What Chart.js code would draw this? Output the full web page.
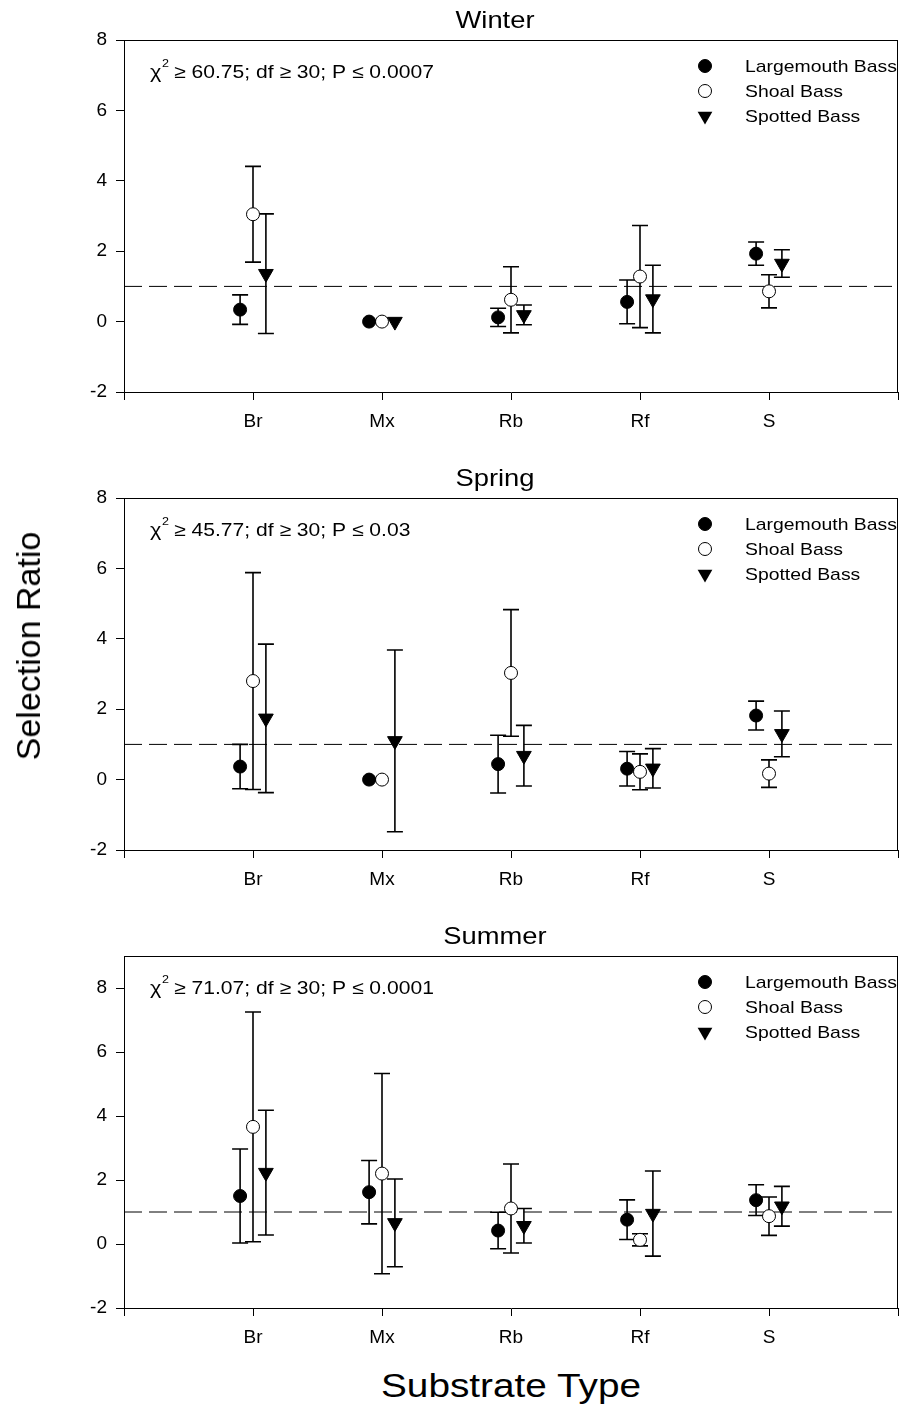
<!DOCTYPE html>
<html>
<head>
<meta charset="utf-8">
<script src="https://cdn.jsdelivr.net/npm/chart.js@4.4.1/dist/chart.umd.min.js"></script>
<style>
  body { margin: 0; background: #fff; }
  #page { position: relative; width: 901px; height: 1413px; background: #fff; font-family: "Liberation Sans", Arial, sans-serif; }
  canvas { position: absolute; left: 0; }
  .ylabel { position: absolute; left: 28px; top: 646px; font-size: 34px; line-height: 34px; white-space: nowrap;
            transform: translate(-50%, -50%) rotate(-90deg); }
  .xlabel { position: absolute; left: 511px; top: 1368px; font-size: 34px; line-height: 34px; white-space: nowrap;
            transform: translateX(-50%) scaleX(1.14); }
</style>
</head>
<body>
<div id="page">
  <canvas id="winter" width="901" height="440" style="top:0px"></canvas>
  <canvas id="spring" width="901" height="440" style="top:458px"></canvas>
  <canvas id="summer" width="901" height="440" style="top:916px"></canvas>
  <div class="ylabel">Selection Ratio</div>
  <div class="xlabel">Substrate Type</div>
</div>
<script>
// categories and tick labels
const categories = ['Br', 'Mx', 'Rb', 'Rf', 'S'];
const species = ['Largemouth Bass', 'Shoal Bass', 'Spotted Bass'];
const xTickValues = [0, 1, 2, 3, 4, 5, 6];
const yTickValues = [-2, 0, 2, 4, 6, 8];
const refLineValue = 1;

// Winter (mean and 95% CI half-width)
const winterLargemouth = [0.34, 0.00, 0.12, 0.56, 1.93];
const winterLargemouthCI = [0.42, null, 0.26, 0.62, 0.33];
const winterShoal = [3.05, 0.00, 0.62, 1.28, 0.86];
const winterShoalCI = [1.36, null, 0.94, 1.45, 0.47];
const winterSpotted = [1.36, 0.00, 0.19, 0.64, 1.65];
const winterSpottedCI = [1.70, null, 0.28, 0.96, 0.39];

// Spring
const springLargemouth = [0.37, 0.00, 0.44, 0.31, 1.82];
const springLargemouthCI = [0.63, null, 0.82, 0.49, 0.41];
const springShoal = [2.80, 0.00, 3.03, 0.22, 0.17];
const springShoalCI = [3.08, null, 1.80, 0.51, 0.39];
const springSpotted = [1.74, 1.10, 0.68, 0.32, 1.30];
const springSpottedCI = [2.11, 2.58, 0.86, 0.56, 0.65];

// Summer
const summerLargemouth = [1.50, 1.62, 0.42, 0.76, 1.37];
const summerLargemouthCI = [1.47, 0.99, 0.57, 0.62, 0.48];
const summerShoal = [3.66, 2.20, 1.11, 0.13, 0.87];
const summerShoalCI = [3.59, 3.13, 1.39, 0.19, 0.60];
const summerSpotted = [2.23, 0.66, 0.57, 0.95, 1.18];
const summerSpottedCI = [1.95, 1.37, 0.54, 1.33, 0.62];

const winterStats = '\u2265 60.75; df \u2265 30; P \u2264 0.0007';
const springStats = '\u2265 45.77; df \u2265 30; P \u2264 0.03';
const summerStats = '\u2265 71.07; df \u2265 30; P \u2264 0.0001';

const FONT = '"Liberation Sans", Arial, sans-serif';
const STRETCH = 1.14;
Chart.defaults.font.family = FONT;
Chart.defaults.color = '#000';

function stretchText(ctx, text, x, y, align) {
  ctx.save();
  ctx.translate(x, y);
  ctx.scale(STRETCH, 1);
  ctx.textAlign = align;
  ctx.textBaseline = 'alphabetic';
  ctx.fillText(text, 0, 0);
  ctx.restore();
}

function drawMarker(ctx, kind, x, y) {
  ctx.beginPath();
  if (kind === 2) {
    const r = 8.5;
    ctx.moveTo(x, y + r);
    ctx.lineTo(x - r * 0.866, y - r / 2);
    ctx.lineTo(x + r * 0.866, y - r / 2);
    ctx.closePath();
    ctx.fillStyle = '#000';
    ctx.fill();
  } else {
    ctx.arc(x, y, 6.5, 0, Math.PI * 2);
    ctx.fillStyle = kind === 0 ? '#000' : '#fff';
    ctx.fill();
    ctx.strokeStyle = '#000';
    ctx.lineWidth = 1;
    ctx.stroke();
  }
}

// error bars drawn under the markers
const errorBars = {
  id: 'errorBars',
  beforeDatasetsDraw(chart) {
    const { ctx, scales: { x, y } } = chart;
    ctx.save();
    ctx.strokeStyle = '#000';
    ctx.lineWidth = 1.6;
    chart.data.datasets.forEach(ds => {
      if (!ds.ci) return;
      ds.data.forEach((p, i) => {
        const e = ds.ci[i];
        if (e == null) return;
        const px = x.getPixelForValue(p.x);
        const top = y.getPixelForValue(p.y + e);
        const bot = y.getPixelForValue(p.y - e);
        ctx.beginPath();
        ctx.moveTo(px, top); ctx.lineTo(px, bot);
        ctx.moveTo(px - 8, top); ctx.lineTo(px + 8, top);
        ctx.moveTo(px - 8, bot); ctx.lineTo(px + 8, bot);
        ctx.stroke();
      });
    });
    ctx.restore();
  }
};

// top and right frame lines, title, stats, legend
const panelDecor = {
  id: 'panelDecor',
  afterDraw(chart, args, opts) {
    const { ctx, chartArea: a } = chart;
    ctx.save();
    ctx.strokeStyle = '#000';
    ctx.lineWidth = 1;
    ctx.beginPath();
    ctx.moveTo(a.left, Math.round(a.top) + 0.5);
    ctx.lineTo(a.right, Math.round(a.top) + 0.5);
    ctx.moveTo(Math.round(a.right) - 0.5, a.top);
    ctx.lineTo(Math.round(a.right) - 0.5, a.bottom);
    ctx.stroke();

    ctx.fillStyle = '#000';
    ctx.font = '24px ' + FONT;
    stretchText(ctx, opts.title, 495, a.top - 12, 'center');

    ctx.font = '19px ' + FONT;
    stretchText(ctx, '\u03c7', a.left + 26, a.top + 38, 'left');
    ctx.font = '11px ' + FONT;
    stretchText(ctx, '2', a.left + 38, a.top + 27, 'left');
    ctx.font = '18.5px ' + FONT;
    stretchText(ctx, opts.stats, a.left + 50, a.top + 38, 'left');

    ctx.font = '17px ' + FONT;
    species.forEach((name, i) => {
      const cy = a.top + 26 + i * 25;
      drawMarker(ctx, i, 705, cy);
      ctx.fillStyle = '#000';
      stretchText(ctx, name, 745, cy + 6, 'left');
    });
    ctx.restore();
  }
};

function seriesPoints(values, k) {
  const offset = (k - 1) * 0.1;
  return values.map((v, i) => ({ x: i + 1 + offset, y: v }));
}

function makePanel(id, title, stats, lmb, lmbCI, shoal, shoalCI, spotted, spottedCI, yMax) {
  const ctx = document.getElementById(id).getContext('2d');
  return new Chart(ctx, {
    type: 'scatter',
    data: {
      datasets: [
        {
          label: species[0], data: seriesPoints(lmb, 0), ci: lmbCI,
          pointStyle: 'circle', pointRadius: 6.5, backgroundColor: '#000', borderColor: '#000', borderWidth: 1
        },
        {
          label: species[1], data: seriesPoints(shoal, 1), ci: shoalCI,
          pointStyle: 'circle', pointRadius: 6.5, backgroundColor: '#fff', borderColor: '#000', borderWidth: 1
        },
        {
          label: species[2], data: seriesPoints(spotted, 2), ci: spottedCI,
          pointStyle: 'triangle', rotation: 180, pointRadius: 8.5, backgroundColor: '#000', borderColor: '#000', borderWidth: 1
        },
        {
          type: 'line', label: 'ref', data: [{ x: 0, y: refLineValue }, { x: 6, y: refLineValue }],
          borderColor: '#000', borderWidth: 1, borderDash: [18, 7], pointRadius: 0, fill: false
        }
      ]
    },
    options: {
      responsive: false,
      animation: false,
      layout: { autoPadding: false, padding: { top: 40, right: 3, left: 0, bottom: 0 } },
      plugins: {
        legend: { display: false },
        tooltip: { enabled: false },
        panelDecor: { title: title, stats: stats }
      },
      scales: {
        x: {
          type: 'linear', min: 0, max: 6,
          afterBuildTicks: s => { s.ticks = xTickValues.map(v => ({ value: v })); },
          afterFit: s => { s.height = 48; s.paddingLeft = 0; s.paddingRight = 0; },
          ticks: {
            callback: v => categories[v - 1] || '',
            font: { size: 19 }, color: '#000', padding: 10, maxRotation: 0, autoSkip: false
          },
          grid: { drawOnChartArea: false, tickLength: 8, color: '#000' },
          border: { color: '#000', width: 1 }
        },
        y: {
          type: 'linear', min: -2, max: yMax,
          afterBuildTicks: s => { s.ticks = yTickValues.map(v => ({ value: v })); },
          afterFit: s => { s.width = 124; s.paddingTop = 0; s.paddingBottom = 0; },
          ticks: { font: { size: 19 }, color: '#000', padding: 9 },
          grid: { drawOnChartArea: false, tickLength: 8, color: '#000' },
          border: { color: '#000', width: 1 }
        }
      }
    },
    plugins: [errorBars, panelDecor]
  });
}

makePanel('winter', 'Winter', winterStats, winterLargemouth, winterLargemouthCI,
  winterShoal, winterShoalCI, winterSpotted, winterSpottedCI, 8);
makePanel('spring', 'Spring', springStats, springLargemouth, springLargemouthCI,
  springShoal, springShoalCI, springSpotted, springSpottedCI, 8);
makePanel('summer', 'Summer', summerStats, summerLargemouth, summerLargemouthCI,
  summerShoal, summerShoalCI, summerSpotted, summerSpottedCI, 9);
</script>
</body>
</html>
